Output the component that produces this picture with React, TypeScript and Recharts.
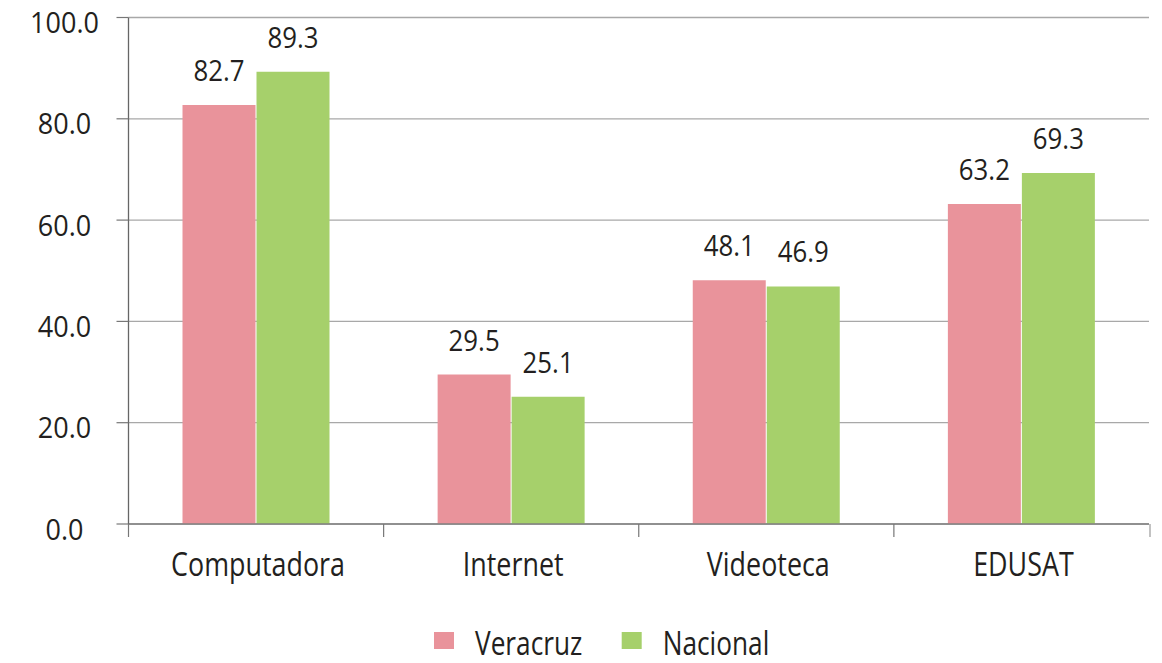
import React from 'react';
import { BarChart, Bar, XAxis, YAxis, CartesianGrid, LabelList, Legend } from 'recharts';

const categories = ['Computadora', 'Internet', 'Videoteca', 'EDUSAT'];
const veracruz = [82.7, 29.5, 48.1, 63.2];
const nacional = [89.3, 25.1, 46.9, 69.3];
const yTicks = [0, 20, 40, 60, 80, 100];
const seriesOrder = ['Veracruz', 'Nacional'];

const data = categories.map((c, i) => ({ name: c, Veracruz: veracruz[i], Nacional: nacional[i] }));

const PINK = '#E9939B';
const GREEN = '#A6D06B';
const TEXT = '#231F20';
const FONT = '"Open Sans", sans-serif';

const SText = ({ x, y, size, sx, anchor = 'middle', children }: any) => (
  <text
    transform={`translate(${x},${y}) scale(${sx},1)`}
    x={0}
    y={0}
    textAnchor={anchor}
    fontFamily={FONT}
    fontSize={size}
    fill={TEXT}
  >
    {children}
  </text>
);

const YTick = (props: any) => {
  const { x, y, payload } = props;
  return (
    <SText x={x - 52} y={y + 15.5} size={30} sx={0.9}>
      {Number(payload.value).toFixed(1)}
    </SText>
  );
};

const XTick = (props: any) => {
  const { x, y, payload, index, visibleTicksCount } = props;
  const half = payload.offset || 127.5;
  const last = index === (visibleTicksCount ?? categories.length) - 1;
  return (
    <g>
      <line x1={x - half} x2={x - half} y1={y} y2={y + 13} stroke="#777" strokeWidth={1.2} />
      {last && <line x1={x + half + 1} x2={x + half + 1} y1={y} y2={y + 13} stroke="#999" strokeWidth={1.2} />}
      <SText x={x + 2} y={y + 51.5} size={32} sx={0.84}>
        {payload.value}
      </SText>
    </g>
  );
};

const BarLabel = (props: any) => {
  const { x, y, width, value } = props;
  return (
    <SText x={x + width / 2} y={y - 24} size={30} sx={0.86}>
      {Number(value).toFixed(1)}
    </SText>
  );
};

const LegendContent = (props: any) => {
  const items = [...(props.payload || [])].sort(
    (a: any, b: any) => seriesOrder.indexOf(a.value) - seriesOrder.indexOf(b.value)
  );
  return (
    <svg width={1162} height={48} style={{ display: 'block', overflow: 'visible' }}>
      {items.map((p: any, i: number) => {
        const bx = 434 + i * 187.7;
        return (
          <g key={p.value}>
            <rect x={bx} y={17} width={20} height={17} fill={p.color} />
            <SText x={bx + 41} y={40} size={32} sx={0.82} anchor="start">
              {p.value}
            </SText>
          </g>
        );
      })}
    </svg>
  );
};

export default function App() {
  return (
    <div style={{ position: 'absolute', left: 0, top: 0, width: 1162, height: 663, background: '#fff' }}>
      <BarChart
        width={1162}
        height={663}
        data={data}
        margin={{ top: 17.5, right: 13, left: 0, bottom: 59 }}
        barSize={73}
        barGap={1}
      >
        <CartesianGrid vertical={false} stroke="#A8A8A8" strokeWidth={1.3} />
        <XAxis
          dataKey="name"
          height={80}
          tickSize={0}
          tickMargin={0}
          tickLine={false}
          axisLine={{ stroke: '#808080', strokeWidth: 1.3 }}
          tick={<XTick />}
          interval={0}
        />
        <YAxis
          domain={[0, 100]}
          ticks={yTicks}
          width={128.5}
          tickSize={12}
          tickMargin={0}
          tickLine={{ stroke: '#777', strokeWidth: 1.2 }}
          axisLine={{ stroke: '#666', strokeWidth: 1.3 }}
          tick={<YTick />}
          interval={0}
        />
        <YAxis
          yAxisId="r"
          orientation="right"
          domain={[0, 100]}
          width={0}
          tick={false}
          tickLine={false}
          axisLine={{ stroke: '#8C8C8C', strokeWidth: 1.3 }}
        />
        <Legend
          layout="horizontal"
          verticalAlign="middle"
          align="center"
          itemSorter={null as any}
          wrapperStyle={{ top: 615, left: 0, width: 1162, height: 48 }}
          content={<LegendContent />}
        />
        <Bar dataKey="Veracruz" fill={PINK} isAnimationActive={false}>
          <LabelList dataKey="Veracruz" content={<BarLabel />} />
        </Bar>
        <Bar dataKey="Nacional" fill={GREEN} isAnimationActive={false}>
          <LabelList dataKey="Nacional" content={<BarLabel />} />
        </Bar>
      </BarChart>
    </div>
  );
}
